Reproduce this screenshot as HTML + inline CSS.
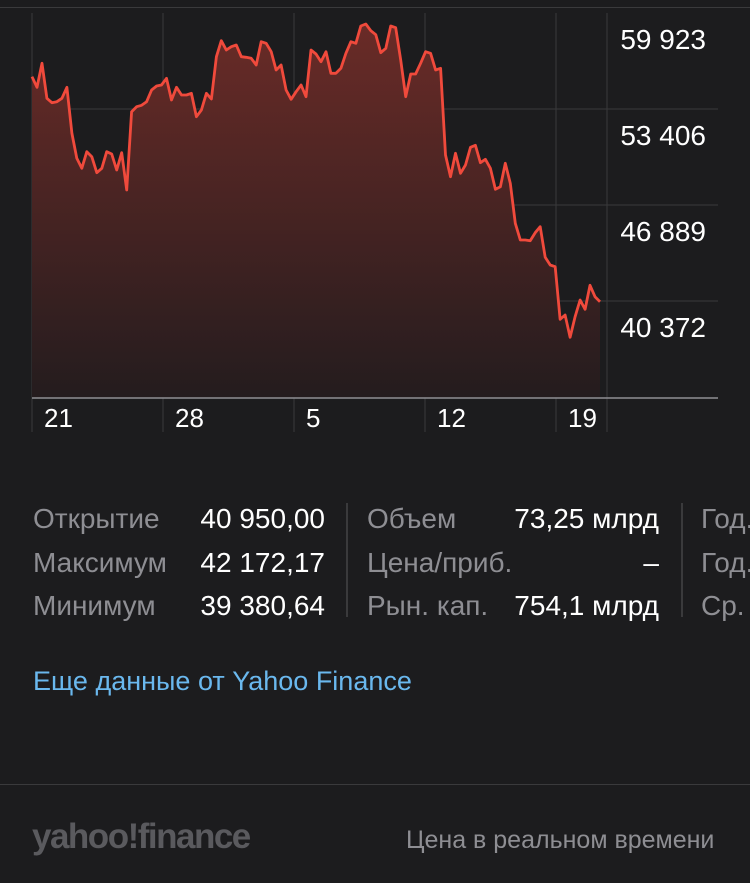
<!DOCTYPE html>
<html><head><meta charset="utf-8"><style>
body{margin:0;width:750px;height:883px;background:#1c1c1e;overflow:hidden;font-family:"Liberation Sans","DejaVu Sans",sans-serif;position:relative}
.t{position:absolute;font-size:28px;line-height:30px;white-space:nowrap}
.l{color:#8e8e93}.v{color:#fff}
</style></head><body>
<div style="position:absolute;left:0;top:7px;width:750px;height:1px;background:#3a3a3c"></div>
<svg id="chart" width="750" height="440" style="position:absolute;left:0;top:0">
<defs><linearGradient id="g" x1="0" y1="0" x2="0" y2="1"><stop offset="0" stop-color="#6a2b27"/><stop offset="1" stop-color="#241c1e"/></linearGradient></defs>
</svg>
<div class="t l" style="left:33px;top:504px">Открытие</div>
<div class="t v" style="right:425px;top:504px">40 950,00</div>
<div class="t l" style="left:33px;top:548px">Максимум</div>
<div class="t v" style="right:425px;top:548px">42 172,17</div>
<div class="t l" style="left:33px;top:591px">Минимум</div>
<div class="t v" style="right:425px;top:591px">39 380,64</div>
<div style="position:absolute;left:346px;top:503px;width:2px;height:114px;background:#3a3a3c"></div>
<div class="t l" style="left:367px;top:504px">Объем</div>
<div class="t v" style="right:91px;top:504px">73,25 млрд</div>
<div class="t l" style="left:367px;top:548px">Цена/приб.</div>
<div class="t v" style="right:91px;top:548px">–</div>
<div class="t l" style="left:367px;top:591px">Рын. кап.</div>
<div class="t v" style="right:91px;top:591px">754,1 млрд</div>
<div style="position:absolute;left:681px;top:503px;width:2px;height:114px;background:#3a3a3c"></div>
<div class="t l" style="left:701px;top:504px">Год.</div>
<div class="t l" style="left:701px;top:548px">Год.</div>
<div class="t l" style="left:701px;top:591px">Ср.</div>
<div class="t" style="left:33px;top:666px;font-size:27px;color:#6ab8ee">Еще данные от Yahoo Finance</div>
<div style="position:absolute;left:0;top:784px;width:750px;height:1px;background:#3a3a3c"></div>
<div style="position:absolute;left:32px;top:817px;font-size:35px;font-weight:bold;color:#5a5a5e;letter-spacing:-1.5px;line-height:40px">yahoo!finance</div>
<div class="t l" style="left:406px;top:825px;font-size:25px">Цена в реальном времени</div>
<script>
const prices=[57434,56709,58339,55963,55669,55736,55963,56709,53587,51890,51211,52342,52003,50917,51211,52342,52184,51098,52274,49740,55058,55397,55488,55736,56528,56800,56868,57320,55850,56709,56189,56189,56302,54718,55171,56302,55917,58791,59877,59244,59470,59583,58791,58746,58678,58226,59809,59696,59131,57886,58226,56528,55895,56415,56868,56076,59244,58972,58452,59131,57660,57660,57999,59017,59809,59696,60873,61009,60556,60285,59063,59357,60873,60760,58565,56076,57615,57615,58339,59131,59017,57886,57999,52116,50645,52229,50871,51437,52636,52772,51595,51822,51211,49785,49966,51550,50193,47477,46346,46346,46301,46844,47251,45169,44649,44536,40960,41255,39738,41141,42273,41639,43268,42499,42160];
const yTicks=[59923,53406,46889,40372];
const yTickLabels=["59 923","53 406","46 889","40 372"];
const xTickLabels=["21","28","5","12","19"];
const xTickDay=[0,1,2,3,4];
const svg=document.getElementById('chart');const NS='http://www.w3.org/2000/svg';
const X0=32,X1=600,AX=398;
const x=i=>X0+i*(X1-X0)/(prices.length-1);
const xw=w=>32+w*131;
const y=v=>328-(v-40372)*96/6517;
function mk(t,a){const e=document.createElementNS(NS,t);for(const k in a)e.setAttribute(k,a[k]);svg.appendChild(e);return e;}
[32,163,294,425,556,607].forEach(gx=>{const e=mk('line',{x1:gx,x2:gx,y1:13,y2:432,stroke:'#3a3a3c','stroke-width':1});

});
[109,205,301].forEach(gy=>{const e=mk('line',{x1:32,x2:718,y1:gy,y2:gy,stroke:'#3a3a3c','stroke-width':1});

});
let d='';prices.forEach((p,i)=>{d+=(i?'L':'M')+x(i).toFixed(1)+','+y(p).toFixed(1);});
const area=mk('path',{d:d+'L'+x(prices.length-1)+','+AX+'L'+X0+','+AX+'Z',fill:'url(#g)'});


const line=mk('path',{d:d,fill:'none',stroke:'#f04a3c','stroke-width':2.8,'stroke-linejoin':'round'});


const ax=mk('line',{x1:32,x2:718,y1:AX,y2:AX,stroke:'#8e8e93','stroke-width':1.5});


yTicks.forEach((v,i)=>{const t=mk('text',{x:706,y:y(v)+9,'text-anchor':'end',fill:'#fff','font-size':28,'font-family':'Liberation Sans, sans-serif'});t.textContent=yTickLabels[i];

});
xTickLabels.forEach((s,i)=>{const t=mk('text',{x:xw(xTickDay[i])+12,y:427,fill:'#fff','font-size':26,'font-family':'Liberation Sans, sans-serif'});t.textContent=s;

});
</script>
</body></html>
